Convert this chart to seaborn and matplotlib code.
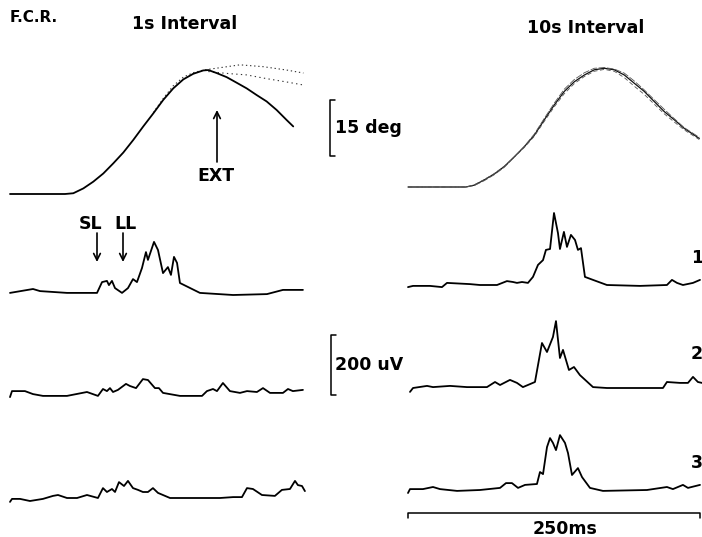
import numpy as np
import pandas as pd
import matplotlib
matplotlib.use("Agg")
import matplotlib.pyplot as plt
import seaborn as sns

# ---------------- data (time in ms, angle in deg, EMG in uV) ----------------
# 1 s interval, wrist angle
ang1_main_t = [0, 47.1, 54.2, 62.8, 71.3, 79.9, 88.4, 97.0, 105.6, 114.1, 122.7, 131.2, 139.8,
               148.4, 156.9, 165.5, 169.8, 176.9, 185.5, 194.1, 202.6, 211.2, 219.7, 228.3,
               236.9, 242.5]
ang1_main_v = [0, 0, 0.2, 1.5, 3.3, 5.5, 8.2, 11.1, 14.5, 18.1, 21.6, 25.2, 28.3,
               30.7, 32.2, 33.1, 33.2, 32.4, 31.3, 29.8, 28.3, 26.5, 24.8, 22.5,
               19.8, 18.1]
ang1_b_t = [122.7, 131.2, 139.8, 148.4, 156.9, 165.5, 176.9, 196.9, 216.9, 236.9, 251.2]
ang1_b_v = [21.8, 25.6, 29.0, 31.3, 32.5, 33.2, 33.7, 34.6, 34.1, 33.2, 32.4]
ang1_c_t = [169.8, 185.5, 202.6, 219.7, 236.9, 251.2]
ang1_c_v = [32.8, 32.3, 31.9, 30.9, 30.0, 29.2]

# 10 s interval, wrist angle (overlaid trials)
ang10_t = [0, 49.6, 56.8, 65.3, 73.9, 82.5, 91.0, 99.6, 108.2, 116.7, 125.3, 133.8, 142.4,
           151.0, 159.5, 168.1, 176.6, 185.2, 193.7, 202.3, 210.8, 219.4, 228.0, 236.5, 249.4]
ang10_a = [0, 0, 0.5, 1.9, 3.5, 5.5, 8.1, 10.8, 13.9, 18.0, 22.0, 25.6, 28.2,
           30.0, 31.4, 31.8, 31.4, 30.0, 27.8, 25.6, 22.9, 20.2, 18.0, 15.7, 13.0]
ang10_b = [0, 0, 0.4, 1.7, 3.3, 5.3, 8.0, 10.9, 14.2, 18.4, 22.5, 26.2, 28.8,
           30.6, 31.8, 32.0, 31.6, 30.5, 28.4, 26.0, 23.4, 20.8, 18.3, 15.9, 13.3]
ang10_c = [0, 0, 0.6, 2.0, 3.6, 5.6, 8.0, 10.6, 13.6, 17.6, 21.5, 25.0, 27.7,
           29.6, 31.0, 31.5, 31.0, 29.3, 27.0, 24.8, 22.2, 19.6, 17.4, 15.3, 12.7]

# 1 s interval EMG
emg1_1_t = [0, 19.7, 25.7, 48.8, 74.5, 78.8, 83, 84.7, 87.3, 89.9, 95.9, 101, 105.3, 108.7, 113,
            116.4, 118.1, 123.3, 126.7, 131, 135.2, 137.8, 140.4, 143, 145.5, 162.6, 191, 220, 233.7, 250.8]
emg1_1_v = [-3, 10, 3, -3, -3, 33, 37, 23, 37, 13, -3, 13, 43, 33, 80,
            133, 107, 167, 140, 63, 83, 57, 117, 97, 30, -3, -10, -7, 7, 7]
emg1_2_t = [0, 1.7, 12.8, 19.7, 28.2, 48.8, 65.9, 75.3, 79.6, 83, 85.6, 88.2, 92.4, 99.3, 102.7,
            107.9, 113.8, 118.1, 124.1, 127.5, 131, 145.5, 164.4, 168.6, 173.8, 177.2, 182.3, 188.3,
            196.9, 202.9, 211.4, 216.6, 222.6, 233.7, 238, 242.2, 250.8]
emg1_2_v = [-7, 13, 13, 3, -3, -3, 10, -3, 20, 13, 23, 10, 17, 37, 30,
            23, 53, 50, 23, 23, 7, -3, -3, 13, 20, 13, 40, 13,
            7, 13, 10, 23, 7, 7, 20, 13, 17]
emg1_3_t = [0, 1.7, 8.6, 17.1, 28.2, 36.8, 41.1, 48.8, 57.4, 65.9, 75.3, 79.6, 83, 87.3, 89.9,
            93.3, 97.6, 101, 105.3, 109.6, 113.8, 118.1, 122.4, 126.7, 137, 168.6, 179.8, 191,
            198.6, 202.9, 208, 215.7, 226.8, 232.8, 239.7, 244, 246.5, 250, 252.5]
emg1_3_v = [-13, -3, -3, -10, -3, 7, 10, 0, 0, 10, 0, 33, 20, 30, 20,
            53, 40, 57, 33, 27, 20, 20, 33, 17, 0, 0, 0, 3,
            3, 33, 30, 10, 7, 27, 30, 57, 43, 40, 23]

# 10 s interval EMG
emg10_1_t = [0, 4.3, 18.8, 29.1, 33.4, 53, 61.6, 76.2, 84.7, 89.9, 93.3, 97.6, 102.7, 107, 111.3,
             115.6, 118.1, 121.6, 125, 128.4, 130.1, 133.5, 136.1, 139.5, 143, 145.5, 148.1, 151.5,
             158.4, 170.3, 198.6, 221.7, 226, 230.3, 235.4, 244, 250]
emg10_1_v = [-7, -3, -3, -7, 7, 3, 0, 0, 13, 10, 7, 10, 7, 27, 67,
             83, 117, 120, 240, 173, 120, 177, 127, 167, 150, 117, 123, 27,
             17, 0, -3, 0, 17, 7, 0, 7, 17]
emg10_2_t = [1.7, 4.3, 16.3, 21.4, 36, 50.5, 67.6, 74.5, 78.8, 87.3, 93.3, 98.4, 108.7, 114.7,
             119, 124.1, 126.7, 130.1, 132.7, 137.8, 142.1, 147.2, 158.4, 170.3, 218.3, 221.7,
             232.8, 239.7, 244, 248.2, 251.7]
emg10_2_v = [-13, 0, 7, 3, 7, 3, 3, 20, 10, 27, 17, 3, 20, 150,
             120, 170, 223, 100, 127, 60, 70, 43, 3, 0, 0, 20,
             17, 17, 37, 20, 17]
emg10_3_t = [0, 1.7, 12.8, 21.4, 27.4, 42, 61.6, 78.8, 83.9, 89, 94.2, 100.2, 110.4, 113, 115.6,
             119, 121.6, 124.1, 126.7, 130.1, 134.4, 137, 140.4, 145.5, 149, 155.8, 166.9, 204.6,
             221.7, 226.8, 235.4, 239.7, 250]
emg10_3_v = [-10, 3, 3, 10, 3, -3, 0, 7, 23, 23, 7, 17, 20, 60, 53,
             143, 173, 157, 133, 183, 157, 123, 50, 73, 43, 7, -3, 0,
             10, 3, 17, 7, 17]

row_labels = ["1", "2", "3"]
DEG_BAR, UV_BAR, MS_BAR = 15, 200, 250

# ---------------- layout ----------------
sns.set_theme(style="white")
plt.rcParams['font.family'] = ['DejaVu Sans', 'Liberation Sans']
plt.rcParams['text.color'] = 'black'

W, H = 702, 537
fig = plt.figure(figsize=(W / 100, H / 100), dpi=100)
fig.patch.set_facecolor("white")

MS_PER_PX = 250 / 292
DEG_PER_PX = 15 / 56
UV_PER_PX = 200 / 60


def panel(x0, x1, ybase, ytop, ybot, per_px):
    ax = fig.add_axes([x0 / W, 1 - ybot / H, (x1 - x0) / W, (ybot - ytop) / H])
    ax.set_xlim(0, (x1 - x0) * MS_PER_PX)
    ax.set_ylim((ybase - ybot) * per_px, (ybase - ytop) * per_px)
    ax.set_axis_off()
    ax.patch.set_alpha(0)
    return ax


def trace(ax, t, v, lw=1.3, color="black", **kw):
    sns.lineplot(x=t, y=v, ax=ax, color=color, lw=lw, sort=False, estimator=None, **kw)
    for ln in ax.lines:
        ln.set_clip_on(False)
        ln.set_solid_joinstyle("round")


def ftext(x, y, s, size=12.5, ha="left", va="center"):
    fig.text(x / W, 1 - y / H, s, fontsize=size, fontweight="bold", ha=ha, va=va, color="black")


# angle panels
axA1 = panel(10, 303, 194, 40, 200, DEG_PER_PX)
trace(axA1, ang1_b_t, ang1_b_v, lw=0.8, color="#333333", linestyle=(0, (1.2, 2.5)))
trace(axA1, ang1_c_t, ang1_c_v, lw=0.8, color="#333333", linestyle=(0, (1.2, 3)))
trace(axA1, ang1_main_t, ang1_main_v, lw=1.3)

axA10 = panel(408, 700, 187, 40, 200, DEG_PER_PX)
trace(axA10, ang10_t, ang10_a, lw=0.9, color="#111111")
trace(axA10, ang10_t, ang10_b, lw=0.6, color="#555555", linestyle=(0, (8, 2)))
trace(axA10, ang10_t, ang10_c, lw=0.6, color="#555555", linestyle=(0, (5, 3)))

# EMG panels
axE11 = panel(10, 303, 292, 205, 305, UV_PER_PX)
trace(axE11, emg1_1_t, emg1_1_v)
axE12 = panel(10, 303, 395, 320, 405, UV_PER_PX)
trace(axE12, emg1_2_t, emg1_2_v)
axE13 = panel(10, 303, 498, 420, 508, UV_PER_PX)
trace(axE13, emg1_3_t, emg1_3_v)

axE101 = panel(408, 700, 285, 205, 295, UV_PER_PX)
trace(axE101, emg10_1_t, emg10_1_v)
axE102 = panel(408, 700, 388, 300, 398, UV_PER_PX)
trace(axE102, emg10_2_t, emg10_2_v)
axE103 = panel(408, 700, 490, 410, 525, UV_PER_PX)
trace(axE103, emg10_3_t, emg10_3_v)

# scale bars
tick_ms = 5 * MS_PER_PX
xb = (330 - 10) * MS_PER_PX
yb0 = (194 - 156) * DEG_PER_PX
axA1.plot([xb + tick_ms, xb, xb, xb + tick_ms], [yb0 + DEG_BAR, yb0 + DEG_BAR, yb0, yb0],
          color="black", lw=1.1, clip_on=False)
xb2 = (331 - 10) * MS_PER_PX
axE12.plot([xb2 + tick_ms, xb2, xb2, xb2 + tick_ms], [UV_BAR, UV_BAR, 0, 0],
           color="black", lw=1.1, clip_on=False)
yms = (490 - 513) * UV_PER_PX
ytk = 5 * UV_PER_PX
axE103.plot([0, 0, MS_BAR, MS_BAR], [yms - ytk, yms, yms, yms - ytk],
            color="black", lw=1.1, clip_on=False)

# arrows
arr = dict(arrowstyle="->", lw=1.2, color="black", shrinkA=0, shrinkB=0, mutation_scale=12)
tE = (217 - 10) * MS_PER_PX
axA1.annotate("", xy=(tE, (194 - 110) * DEG_PER_PX), xytext=(tE, (194 - 162) * DEG_PER_PX),
              arrowprops=arr, annotation_clip=False)
for xpx in (97, 123):
    tt = (xpx - 10) * MS_PER_PX
    axE11.annotate("", xy=(tt, (292 - 262) * UV_PER_PX), xytext=(tt, (292 - 233) * UV_PER_PX),
                   arrowprops=arr, annotation_clip=False)

# texts
ftext(10, 17, "F.C.R.", size=11)
ftext(185, 24, "1s Interval", ha="center")
ftext(586, 28, "10s Interval", ha="center")
ftext(335, 128, "15 deg")
ftext(216, 176, "EXT", ha="center")
ftext(91, 224, "SL", ha="center")
ftext(126, 224, "LL", ha="center")
ftext(335, 365, "200 uV")
for lab, y in zip(row_labels, [258, 354, 463]):
    ftext(697, y, lab, ha="center")
ftext(565, 529, "250ms", ha="center")

fig.savefig("out.png", dpi=100, facecolor="white")
